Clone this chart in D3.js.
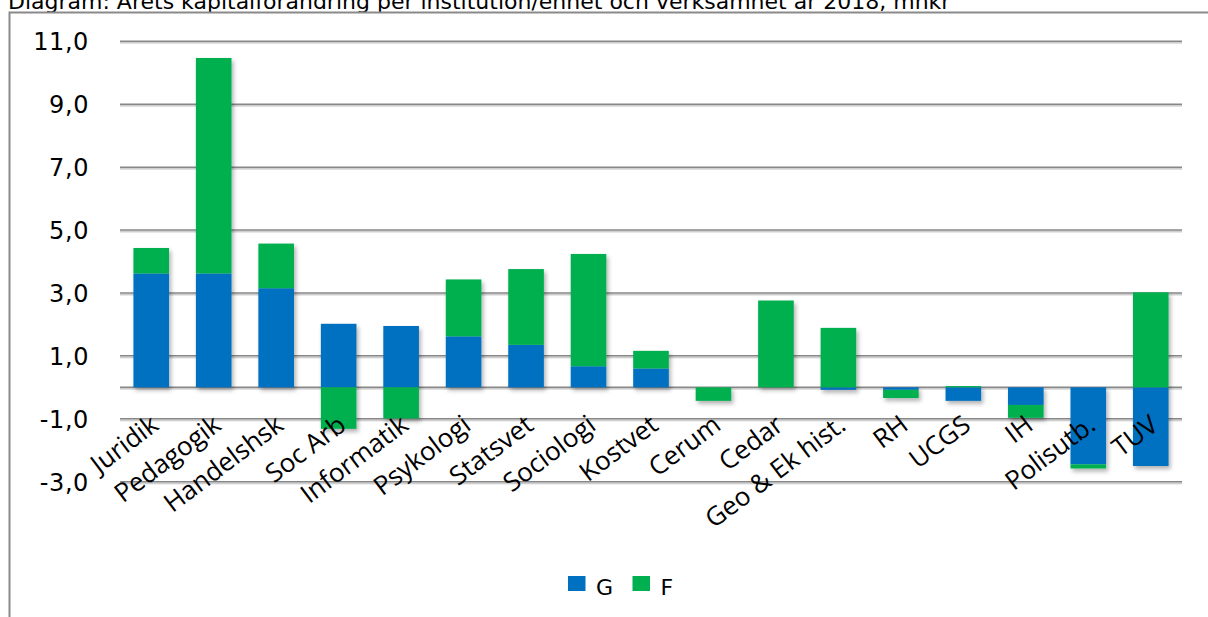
<!DOCTYPE html>
<html>
<head>
<meta charset="utf-8">
<script src="https://cdn.jsdelivr.net/npm/d3@7/dist/d3.min.js"></script>
<style>
  html, body { margin: 0; padding: 0; background: #ffffff; }
  svg { display: block; }
</style>
</head>
<body>
<script>
// Institutions / units along the x axis
const categories = ["Juridik", "Pedagogik", "Handelshsk", "Soc Arb", "Informatik", "Psykologi",
  "Statsvet", "Sociologi", "Kostvet", "Cerum", "Cedar", "Geo & Ek hist.", "RH", "UCGS",
  "IH", "Polisutb.", "TUV"];

// Capital change per activity, mnkr
const seriesG = [3.62, 3.62, 3.15, 2.02, 1.95, 1.62, 1.35, 0.67, 0.60, 0.00, 0.00, -0.08, -0.08, -0.43, -0.56, -2.45, -2.50];
const seriesF = [0.81, 6.85, 1.42, -1.32, -0.99, 1.81, 2.41, 3.57, 0.56, -0.43, 2.76, 1.89, -0.26, 0.04, -0.41, -0.13, 3.02];

const seriesNames = ["G", "F"];
const seriesColors = ["#0070C0", "#00B050"];

const yTicks = [-3, -1, 1, 3, 5, 7, 9, 11];
const yDomain = [-3, 11];

const titleText = "Diagram: Årets kapitalförändring per institution/enhet och verksamhet år 2018, mnkr";

const W = 1208, H = 617;
const plot = { left: 120, right: 1182, top: 41.3, bottom: 481.7 };

const svg = d3.select("body").append("svg")
  .attr("width", W).attr("height", H);

const defs = svg.append("defs");
const barShadow = defs.append("filter").attr("id", "barShadow")
  .attr("x", "-20%").attr("y", "-20%").attr("width", "150%").attr("height", "150%");
barShadow.append("feDropShadow").attr("dx", 2).attr("dy", 3).attr("stdDeviation", 2)
  .attr("flood-color", "#000").attr("flood-opacity", 0.3);
const lineShadow = defs.append("filter").attr("id", "lineShadow")
  .attr("x", "-1%").attr("y", "-200%").attr("width", "102%").attr("height", "500%");
lineShadow.append("feDropShadow").attr("dx", 0).attr("dy", 1.5).attr("stdDeviation", 0.6)
  .attr("flood-color", "#000").attr("flood-opacity", 0.25);

// Title (runs off the top edge of the frame)
svg.append("text")
  .attr("x", 8).attr("y", 9)
  .attr("font-family", "DejaVu Sans, Verdana, sans-serif")
  .attr("font-size", 22)
  .attr("fill", "#000")
  .text(titleText);

// Chart frame
svg.append("path")
  .attr("d", `M9.5,${H + 2} L9.5,12.5 L${W + 2},12.5`)
  .attr("fill", "none").attr("stroke", "#8a8a8a").attr("stroke-width", 2);

const x = d3.scaleBand()
  .domain(categories)
  .range([plot.left, plot.right])
  .paddingInner(0.43)
  .paddingOuter(0.215);

const y = d3.scaleLinear()
  .domain(yDomain)
  .range([plot.bottom, plot.top]);

// Gridlines and zero axis line
const gridVals = yTicks.concat([0]);
svg.append("g").attr("filter", "url(#lineShadow)")
  .selectAll("line").data(gridVals).join("line")
  .attr("x1", plot.left).attr("x2", plot.right)
  .attr("y1", d => y(d)).attr("y2", d => y(d))
  .attr("stroke", "#878787").attr("stroke-width", 1.5);

// Y tick labels with comma decimals
const sv = d3.formatLocale({ decimal: ",", thousands: " ", grouping: [3], currency: ["", " kr"], minus: "-" });
const fmt = sv.format(".1f");
const yAxis = d3.axisLeft(y).tickValues(yTicks).tickFormat(fmt).tickSize(0).tickPadding(0);
const yg = svg.append("g").attr("transform", "translate(89,0)").call(yAxis);
yg.select(".domain").remove();
yg.selectAll("text")
  .attr("font-family", "DejaVu Sans, Verdana, sans-serif")
  .attr("font-size", 24)
  .attr("letter-spacing", 0.6)
  .attr("fill", "#000")
  .attr("dy", "0.36em");

// Stacked bars (negative parts stack downward from zero)
const rows = categories.map((c, i) => ({ cat: c, G: seriesG[i], F: seriesF[i] }));
const stacked = d3.stack().keys(seriesNames).offset(d3.stackOffsetDiverging)(rows);

const barsG = svg.append("g").attr("filter", "url(#barShadow)");
stacked.forEach((layer, k) => {
  barsG.append("g")
    .selectAll("rect").data(layer).join("rect")
    .attr("x", d => x(d.data.cat))
    .attr("width", x.bandwidth())
    .attr("y", d => y(Math.max(d[0], d[1])))
    .attr("height", d => Math.abs(y(d[0]) - y(d[1])))
    .attr("fill", seriesColors[k]);
});

// Category labels, rotated
const xAxis = d3.axisBottom(x).tickSize(0).tickPadding(0);
const xg = svg.append("g").attr("transform", `translate(0,${y(0)})`).call(xAxis);
xg.select(".domain").remove();
xg.selectAll("text")
  .attr("font-family", "'Open Sans', Calibri, sans-serif")
  .attr("font-size", 26)
  .attr("fill", "#000")
  .attr("text-anchor", "end")
  .attr("dy", 0)
  .attr("y", 0)
  .attr("x", 0)
  .attr("transform", "translate(9,41) rotate(-37)");

// Legend
const legend = svg.append("g").attr("transform", "translate(568,576)");
const legendX = [0, 64.5];
seriesNames.forEach((name, i) => {
  const g = legend.append("g").attr("transform", `translate(${legendX[i]},0)`);
  g.append("rect").attr("width", 17.5).attr("height", 15).attr("fill", seriesColors[i]);
  g.append("text").attr("x", 28).attr("y", 18.5)
    .attr("font-family", "DejaVu Sans, Verdana, sans-serif")
    .attr("font-size", 22).attr("fill", "#000")
    .text(name);
});
</script>
</body>
</html>
